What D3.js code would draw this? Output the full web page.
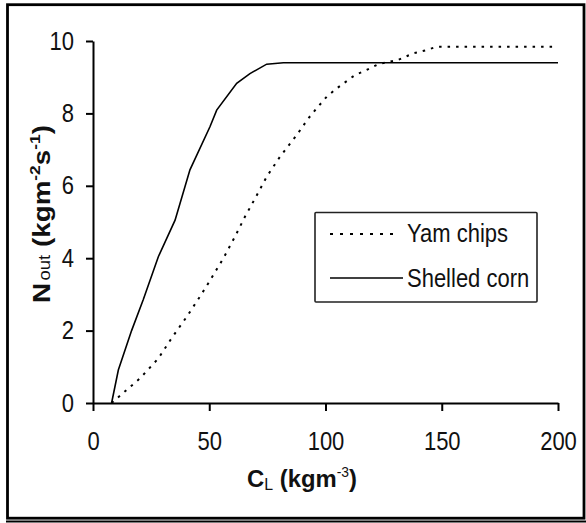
<!DOCTYPE html>
<html lang="en">
<head>
<meta charset="utf-8">
<script src="https://d3js.org/d3.v7.min.js"></script>
<style>
  body { margin: 0; background: #fff; }
  svg text { font-family: Arial, "Liberation Sans", sans-serif; fill: #111; }
</style>
</head>
<body>
<svg width="586" height="523"></svg>
<script>
// data
var cornX = [8, 10.9, 16.6, 21.6, 28.1, 35.3, 41.7, 50.3, 53.2, 61.8, 67.5, 74.7, 81.9, 200];
var cornY = [0, 0.91, 2.0, 2.85, 4.04, 5.05, 6.44, 7.63, 8.09, 8.83, 9.1, 9.36, 9.4, 9.4];

var yamX = [8, 20.2, 28.1, 33.8, 40.3, 46.0, 49.6, 56.1, 61.1, 65.4, 69.7, 74.7, 80.4, 87.6, 92.6,
            96.2, 100.5, 104.8, 112.7, 117.7, 122.7, 131.3, 137.8, 143.5, 147.8, 200];
var yamY = [0, 0.68, 1.23, 1.79, 2.38, 2.94, 3.31, 4.0, 4.6, 5.15, 5.65, 6.25, 6.8, 7.4, 7.86,
            8.14, 8.46, 8.69, 9.06, 9.2, 9.36, 9.48, 9.66, 9.75, 9.84, 9.84];

var xTicks = [0, 50, 100, 150, 200];
var yTicks = [0, 2, 4, 6, 8, 10];
var seriesNames = ["Yam chips", "Shelled corn"];

var svg = d3.select("svg");
var sx = 0.88; // horizontal squeeze of the text in the picture

// outer frame
svg.append("rect").attr("x", 7.5).attr("y", 4.7).attr("width", 576.5).attr("height", 513.5)
   .attr("fill", "none").attr("stroke", "#000").attr("stroke-width", 2.8);
svg.append("line").attr("x1", 6).attr("x2", 586).attr("y1", 521.5).attr("y2", 521.5)
   .attr("stroke", "#000").attr("stroke-width", 2);

var x = d3.scaleLinear().domain([0, 200]).range([93, 558]);
var y = d3.scaleLinear().domain([0, 10]).range([403, 41]);

// axes
var gx = svg.append("g").attr("transform", "translate(0," + y(0) + ")")
  .call(d3.axisBottom(x).tickValues(xTicks).tickSize(8).tickSizeOuter(0));
var gy = svg.append("g").attr("transform", "translate(" + x(0) + ",0)")
  .call(d3.axisLeft(y).tickValues(yTicks).tickSize(7).tickSizeOuter(0));

[gx, gy].forEach(function(g) {
  g.select(".domain").attr("stroke", "#000").attr("stroke-width", 2);
  g.selectAll(".tick line").attr("stroke", "#000").attr("stroke-width", 2);
  g.selectAll("text").attr("font-size", "25px").attr("fill", "#111");
});
gx.selectAll("text").attr("dy", 0).attr("y", 47).attr("transform", "scale(" + sx + ",1)");
gy.selectAll("text").attr("dy", 0).attr("y", 8).attr("x", -19 / sx)
  .attr("transform", "scale(" + sx + ",1)");

// curves
var line = d3.line().x(function(d) { return x(d[0]); }).y(function(d) { return y(d[1]); });
var corn = cornX.map(function(v, i) { return [v, cornY[i]]; });
var yam = yamX.map(function(v, i) { return [v, yamY[i]]; });

svg.append("path").datum(corn).attr("d", line)
   .attr("fill", "none").attr("stroke", "#000").attr("stroke-width", 1.6);
svg.append("path").datum(yam).attr("d", line)
   .attr("fill", "none").attr("stroke", "#000").attr("stroke-width", 2)
   .attr("stroke-dasharray", "2.5,6");

// legend
svg.append("rect").attr("x", 315).attr("y", 212.5).attr("width", 222).attr("height", 89.5)
   .attr("fill", "#fff").attr("stroke", "#222").attr("stroke-width", 1.6).attr("rx", 1);
svg.append("line").attr("x1", 330).attr("x2", 398).attr("y1", 234).attr("y2", 234)
   .attr("stroke", "#000").attr("stroke-width", 2).attr("stroke-dasharray", "3,7");
svg.append("line").attr("x1", 330).attr("x2", 403).attr("y1", 278).attr("y2", 278)
   .attr("stroke", "#000").attr("stroke-width", 1.6);
[242, 287].forEach(function(by, i) {
  svg.append("g").attr("transform", "translate(407," + by + ") scale(" + sx + ",1)")
     .append("text").attr("font-size", "25px").text(seriesNames[i]);
});

// x axis title
var xt = svg.append("text").attr("font-size", "24px").attr("font-weight", "bold")
  .attr("text-anchor", "middle");
xt.append("tspan").text("C");
xt.append("tspan").attr("font-size", "16px").attr("font-weight", "normal").attr("dy", 3).text("L");
xt.append("tspan").attr("dy", -3).text(" (kgm");
xt.append("tspan").attr("font-size", "14px").attr("font-weight", "normal").attr("dy", -10).text("-3");
xt.append("tspan").attr("dy", 10).text(")");
var wx = xt.node().getBBox().width;
xt.attr("transform", "translate(302,487) scale(" + (110 / wx) + ",1)");

// y axis title
var yt = svg.append("text").attr("font-size", "24px").attr("font-weight", "bold")
  .attr("text-anchor", "middle");
yt.append("tspan").text("N");
yt.append("tspan").attr("font-size", "16px").attr("font-weight", "normal").attr("dx", 2).text("out");
yt.append("tspan").text(" (kgm");
yt.append("tspan").attr("font-size", "15px").attr("dy", -10).text("-2");
yt.append("tspan").attr("dy", 10).text("s");
yt.append("tspan").attr("font-size", "15px").attr("dy", -10).text("-1");
yt.append("tspan").attr("dy", 10).text(")");
var wy = yt.node().getBBox().width;
yt.attr("transform", "translate(50,214) rotate(-90) scale(" + (178 / wy) + ",1)");
</script>
</body>
</html>
